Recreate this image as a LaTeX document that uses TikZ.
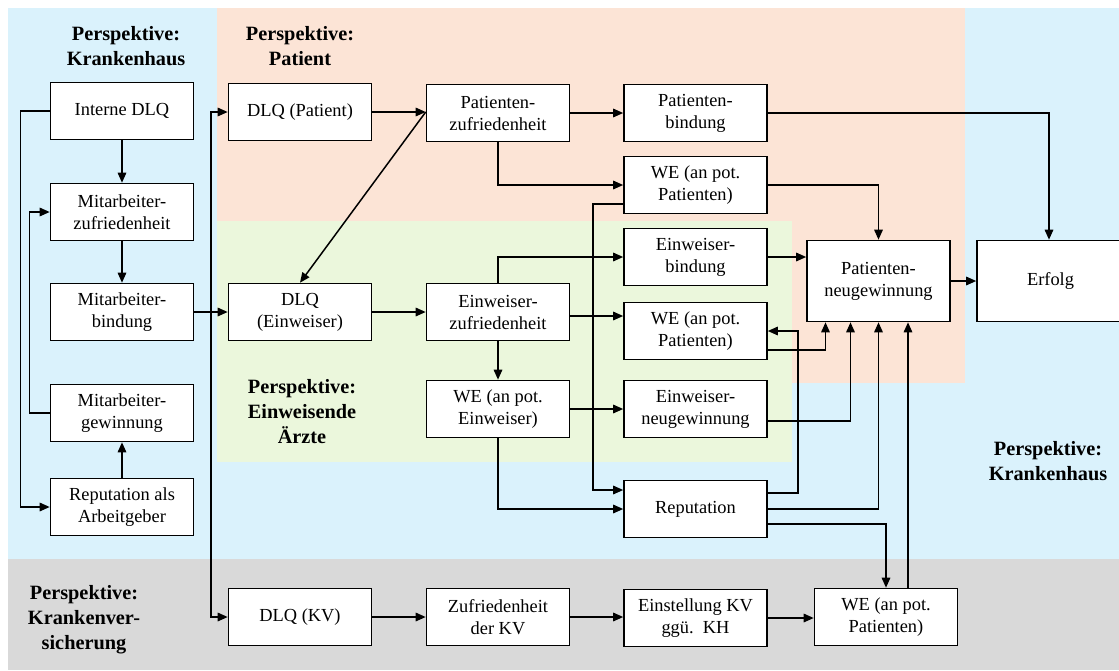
\documentclass[tikz,border=0pt]{standalone}
\usepackage{fontspec}
\setmainfont{Liberation Serif}
\usetikzlibrary{arrows.meta,calc}
\definecolor{bgblue}{RGB}{218,242,252}
\definecolor{bgorange}{RGB}{252,228,214}
\definecolor{bggreen}{RGB}{235,247,220}
\definecolor{bggray}{RGB}{217,217,217}
\tikzset{
  box/.style={draw, line width=1.6pt, fill=white, minimum width=143pt, minimum height=57pt,
    align=center, inner sep=2pt, font=\fontsize{18.4}{22}\selectfont},
  bigbox/.style={box, minimum height=81pt},
  persp/.style={align=center, inner sep=0pt, font=\fontsize{20.3}{25}\selectfont\bfseries},
  conn/.style={line width=1.5pt, -{Triangle[length=10pt,width=8.5pt]}}
}
\begin{document}
\begin{tikzpicture}[x=1pt,y=-1pt]
\useasboundingbox (0,0) rectangle (1119,670);
% backgrounds
\fill[white] (0,0) rectangle (1119,670);
\fill[bgblue] (8,8) rectangle (1119,559);
\fill[bggray] (8,559) rectangle (1119,670);
\fill[bgorange] (217,8) rectangle (965,383);
\fill[bggreen] (217,221) rectangle (792,462);

% perspective labels
\node[persp] (lkh) at (126,46) {Perspektive:\\Krankenhaus};
\node[persp] (lpat) at (300,46) {Perspektive:\\Patient};
\node[persp] (lein) at (302,412) {Perspektive:\\Einweisende\\Ärzte};
\node[persp] (lkv) at (84,620) {Perspektive:\\Krankenver-\\sicherung};
\node[persp] (lkh2) at (1048,461) {Perspektive:\\Krankenhaus};

% left column
\node[box] (idlq) at (122,111) {Interne DLQ};
\node[box] (mz) at (122,212) {Mitarbeiter-\\zufriedenheit};
\node[box] (mb) at (122,312) {Mitarbeiter-\\bindung};
\node[box] (mg) at (122,413) {Mitarbeiter-\\gewinnung};
\node[box] (rag) at (122,507) {Reputation als\\Arbeitgeber};

% DLQ column
\node[box] (dlqp) at (300,112) {DLQ (Patient)};
\node[box] (dlqe) at (300,312) {DLQ\\(Einweiser)};
\node[box] (dlqkv) at (300,617) {DLQ (KV)};

% third column
\node[box] (pz) at (498,113) {Patienten-\\zufriedenheit};
\node[box] (ez) at (498,312) {Einweiser-\\zufriedenheit};
\node[box] (wee) at (498,409) {WE (an pot.\\Einweiser)};
\node[box] (zkv) at (498,617) {Zufriedenheit\\der KV};

% fourth column
\node[box] (pb) at (695.5,113) {Patienten-\\bindung};
\node[box] (wep1) at (695.5,185) {WE (an pot.\\Patienten)};
\node[box] (eb) at (695.5,257) {Einweiser-\\bindung};
\node[box] (wep2) at (695.5,331) {WE (an pot.\\Patienten)};
\node[box] (en) at (695.5,409) {Einweiser-\\neugewinnung};
\node[box] (rep) at (695.5,509) {Reputation};
\node[box] (ekv) at (695.5,618) {Einstellung KV\\ggü.\ \ KH};

% right part
\node[bigbox] (pn) at (878.5,281) {Patienten-\\neugewinnung};
\node[bigbox, minimum width=147pt] (erf) at (1050.5,281) {Erfolg};
\node[box] (wep3) at (886,617) {WE (an pot.\\Patienten)};

% left connectors
\draw[conn] (idlq.south) -- (mz.north);
\draw[conn] (mz.south) -- (mb.north);
\draw[conn] (rag.north) -- (mg.south);
\draw[conn] (idlq.west) -- ++(-29,0) |- (rag.west);
\draw[conn] (mg.west) -- ++(-20,0) |- (mz.west);
\draw[conn] (mb.east) -- (dlqe.west);
\coordinate (sp) at ($(mb.east)!0.5!(dlqe.west)$);
\draw[conn] (sp) |- (dlqp.west);
\draw[conn] (sp) |- (dlqkv.west);

% patient row
\coordinate (pzin) at (dlqp.east -| pz.west);
\draw[conn] (dlqp.east) -- (pzin);
\draw[conn] (pzin) -- (dlqe.north);
\draw[conn] (pz.east) -- (pb.west);
\draw[conn] (pz.south) |- (wep1.west);
\draw[conn] (wep1.east) -| (pn.north);
\draw[conn] (pb.east) -| ($(erf.north)+(-1.5,0)$);
\draw[conn] ($(wep1.west)+(0,19)$) -- ++(-30,0) |- ($(rep.west)+(0,-19)$);

% Einweiser rows
\draw[conn] (dlqe.east) -- (ez.west);
\draw[conn] (ez.north) |- (eb.west);
\draw[conn] ($(ez.east)+(0,4)$) -- ($(wep2.west)+(0,-15)$);
\draw[conn] (ez.south) -- (wee.north);
\draw[conn] (wee.east) -- (en.west);
\draw[conn] (wee.south) |- (rep.west);
\draw[conn] (eb.east) -- (eb.east -| pn.west);
\draw[conn] (pn.east) -- (erf.west);
\draw[conn] ($(wep2.east)+(0,19)$) -| ($(pn.south)+(-53,0)$);
\draw[conn] ($(en.east)+(0,12)$) -| ($(pn.south)+(-28,0)$);
\draw[conn] (rep.east) -| (pn.south);
\draw[conn] ($(rep.east)+(0,15)$) -| (wep3.north);
\draw[conn] ($(rep.east)+(0,-16)$) -- ++(30,0) |- (wep2.east);
\coordinate (w3t) at ($(wep3.north)+(22,0)$);
\draw[conn] (w3t) -- (w3t |- pn.south);

% KV row
\draw[conn] (dlqkv.east) -- (zkv.west);
\draw[conn] (zkv.east) -- (ekv.west |- zkv.east);
\draw[conn] (ekv.east) -- (wep3.west |- ekv.east);
\end{tikzpicture}
\end{document}
